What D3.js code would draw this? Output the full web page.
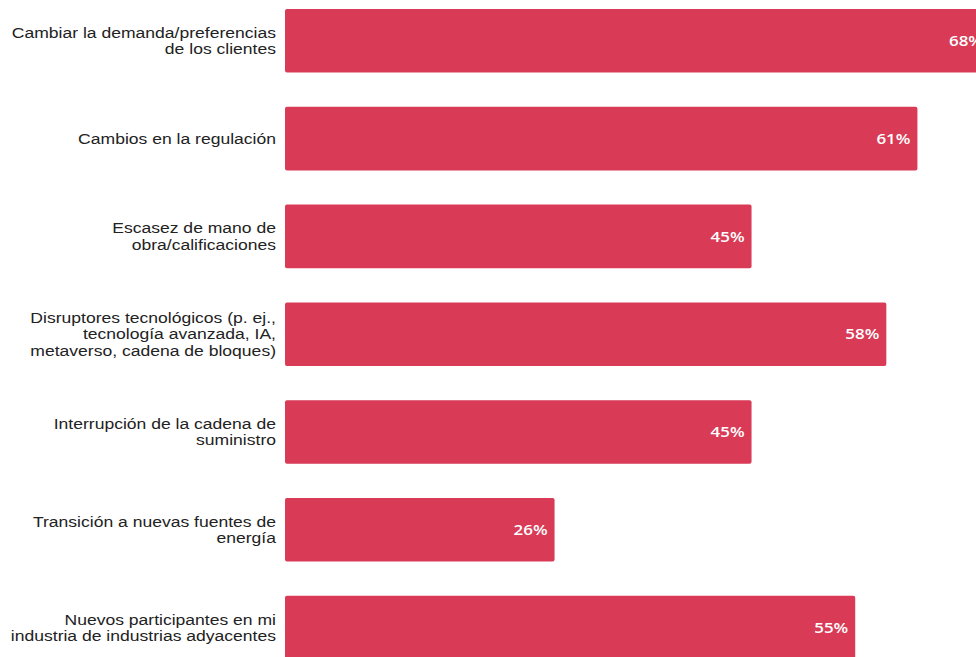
<!DOCTYPE html>
<html>
<head>
<meta charset="utf-8">
<script src="https://cdn.jsdelivr.net/npm/d3@7"></script>
<style>
  html, body { margin: 0; padding: 0; background: #ffffff; overflow: hidden; }
  svg { display: block; }
</style>
</head>
<body>
<svg id="chart" width="976" height="657"></svg>
<script>
// Category labels, already split into display lines
const categories = [
  ["Cambiar la demanda/preferencias", "de los clientes"],
  ["Cambios en la regulación"],
  ["Escasez de mano de", "obra/calificaciones"],
  ["Disruptores tecnológicos (p. ej.,", "tecnología avanzada, IA,", "metaverso, cadena de bloques)"],
  ["Interrupción de la cadena de", "suministro"],
  ["Transición a nuevas fuentes de", "energía"],
  ["Nuevos participantes en mi", "industria de industrias adyacentes"]
];
const values = [68, 61, 45, 58, 45, 26, 55];

const svg = d3.select("#chart");
const barColor = "#d93a56";
// Text is drawn slightly widened horizontally
const stretch = 1.17;

const ids = categories.map((_, i) => i);

const x = d3.scaleLinear().domain([0, 68]).range([285, 990]);
const y = d3.scaleBand().domain(ids).range([9, 659.4]).paddingInner(0.35).paddingOuter(0);

const rows = svg.selectAll("g.row")
  .data(ids)
  .join("g")
  .attr("class", "row");

// Bars with slightly rounded corners
rows.append("rect")
  .attr("x", x(0))
  .attr("y", i => y(i))
  .attr("width", i => x(values[i]) - x(0))
  .attr("height", y.bandwidth())
  .attr("rx", 2)
  .attr("fill", barColor);

// Value labels inside the bar end
rows.append("text")
  .attr("transform", i => `translate(${x(values[i]) - 7},${y(i) + y.bandwidth() / 2}) scale(${stretch},1)`)
  .attr("dy", "0.36em")
  .attr("text-anchor", "end")
  .attr("fill", "#ffffff")
  .style("font-family", "'Open Sans', sans-serif")
  .style("font-size", "14.5px")
  .style("font-weight", 600)
  .text(i => values[i] + "%");

// Category labels, right aligned to the left of the bars
const lineH = 16.5;
rows.append("text")
  .attr("transform", i => `translate(276,0) scale(${stretch},1)`)
  .attr("text-anchor", "end")
  .attr("fill", "#222222")
  .style("font-family", "'Liberation Sans', Arial, sans-serif")
  .style("font-size", "15px")
  .each(function (i) {
    const lines = categories[i];
    const cy = y(i) + y.bandwidth() / 2;
    const start = cy - (lines.length - 1) * lineH / 2;
    d3.select(this).selectAll("tspan")
      .data(lines)
      .join("tspan")
      .attr("x", 0)
      .attr("y", (d, k) => start + k * lineH)
      .attr("dy", "0.35em")
      .text(d => d);
  });
</script>
</body>
</html>
